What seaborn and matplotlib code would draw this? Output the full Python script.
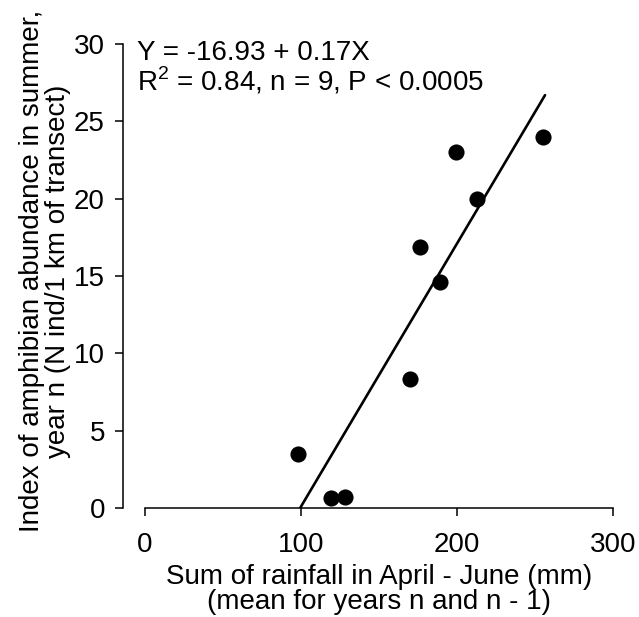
import numpy as np
import pandas as pd
import seaborn as sns
import matplotlib
matplotlib.use("Agg")
import matplotlib.pyplot as plt

# rainfall (mm) vs amphibian abundance index
rainfall = [97.9, 119.1, 128.2, 170.3, 176.7, 189.0, 199.2, 213.3, 255.1]
abundance = [3.5, 0.65, 0.7, 8.35, 16.9, 14.6, 23.0, 20.0, 24.0]

# fitted regression reported on the chart
intercept = -16.93
slope = 0.17

x_ticks = [0, 100, 200, 300]
y_ticks = [0, 5, 10, 15, 20, 25, 30]

sns.set_style("ticks")
plt.rcParams['font.family'] = ['Liberation Sans', 'DejaVu Sans']
plt.rcParams['mathtext.fontset'] = 'custom'
plt.rcParams['mathtext.rm'] = 'Liberation Sans'
for k in ['text.color', 'axes.labelcolor', 'xtick.color', 'ytick.color', 'axes.edgecolor']:
    plt.rcParams[k] = 'black'

df = pd.DataFrame({"rain": rainfall, "abund": abundance})

# regression line from where it crosses zero up to the largest rainfall
x0 = -intercept / slope
line_x = np.array([x0, max(rainfall) + 1.5])
fit = pd.DataFrame({"rain": line_x, "abund": intercept + slope * line_x})

fig = plt.figure(figsize=(6.39, 6.17), dpi=100)
ax = fig.add_axes([0.1925, 0.1767, 0.781, 0.752])

sns.lineplot(data=fit, x="rain", y="abund", color="black", linewidth=1.9, ax=ax)
sns.scatterplot(data=df, x="rain", y="abund", color="black", s=135,
                linewidth=0, ax=ax, clip_on=False, zorder=3)

ax.set_xlim(-14, 306)
ax.set_ylim(0, 30)
ax.set_xticks(x_ticks)
ax.set_yticks(y_ticks)
ax.tick_params(labelsize=20, width=1.1, length=6)
ax.tick_params(axis='x', pad=11)
ax.tick_params(axis='y', pad=7)
ax.spines['top'].set_visible(False)
ax.spines['right'].set_visible(False)
ax.spines['bottom'].set_bounds(0, 300)
ax.spines['left'].set_bounds(0, 30)
for s in ['left', 'bottom']:
    ax.spines[s].set_linewidth(1.1)

ax.set_xlabel("Sum of rainfall in April - June (mm)\n(mean for years n and n - 1)",
              fontsize=20, linespacing=0.95)
ax.xaxis.set_label_coords((150 + 14) / 320, -0.12)
ax.xaxis.label.set_va("top")
ax.set_ylabel("Index of amphibian abundance in summer,\nyear n (N ind/1 km of transect)",
              fontsize=20, linespacing=1.0)
ax.yaxis.set_label_coords(-0.104, 0.51)

# regression equation and stats, top left
fig.text(137 / 639, 1 - 60 / 617, "Y = -16.93 + 0.17X",
         fontsize=20, va="baseline", ha="left")
fig.text(137 / 639, 1 - 91 / 617, "R$^2$ = 0.84, n = 9, P < 0.0005",
         fontsize=20, va="baseline", ha="left")

fig.savefig("out.png", dpi=100)
